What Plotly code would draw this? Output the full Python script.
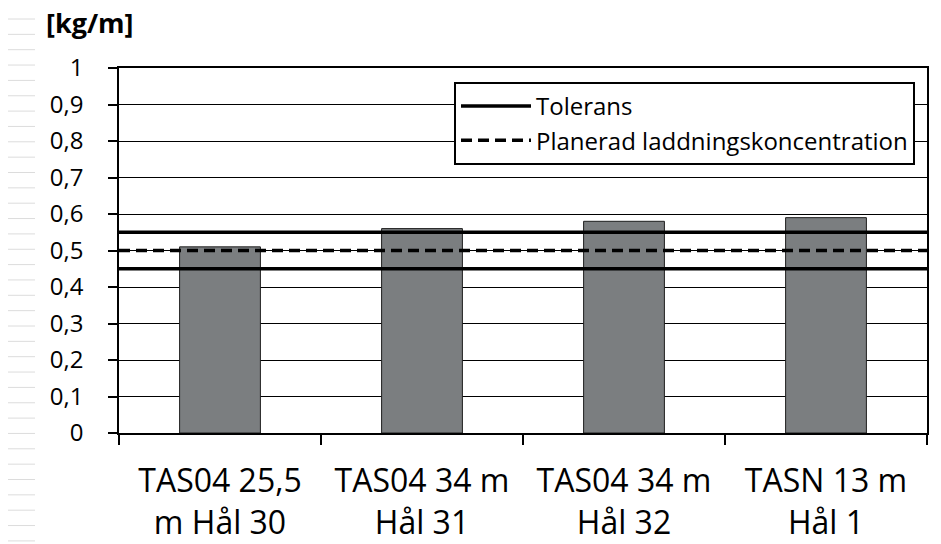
import plotly.graph_objects as go

# Measured charge concentration per hole
categories = [
    "TAS04 25,5<br>m Hål 30",
    "TAS04 34 m<br>Hål 31",
    "TAS04 34 m<br>Hål 32",
    "TASN 13 m<br>Hål 1",
]
values = [0.51, 0.56, 0.58, 0.59]

# Reference levels [kg/m]
tolerance_upper = 0.55
tolerance_lower = 0.45
planned = 0.50

y_ticks = [0, 0.1, 0.2, 0.3, 0.4, 0.5, 0.6, 0.7, 0.8, 0.9, 1]
y_tick_text = ["0", "0,1", "0,2", "0,3", "0,4", "0,5", "0,6", "0,7", "0,8", "0,9", "1"]

FONT = "Open Sans, DejaVu Sans, sans-serif"

fig = go.Figure()

fig.add_trace(go.Bar(
    x=categories,
    y=values,
    width=0.4,
    marker=dict(color="#7b7e80", line=dict(color="#1e1e1e", width=1)),
    showlegend=False,
    hoverinfo="y",
))

# Horizontal reference lines spanning the full plot width (on a hidden 0..1 axis)
fig.add_trace(go.Scatter(
    x=[0, 1, None, 0, 1],
    y=[tolerance_upper, tolerance_upper, None, tolerance_lower, tolerance_lower],
    xaxis="x2",
    mode="lines",
    line=dict(color="black", width=3.5),
    name="Tolerans",
))
fig.add_trace(go.Scatter(
    x=[0, 1],
    y=[planned, planned],
    xaxis="x2",
    mode="lines",
    line=dict(color="black", width=3.5, dash="11px,6px"),
    name="Planerad laddningskoncentration",
))

# Faint row rules along the left edge
W, H = 941, 544
L, R, T, B = 119, 14, 68, 111
pw, ph = W - L - R, H - T - B
shapes = []
y_px = 19.0
while y_px < H:
    yp = (H - B - y_px) / ph
    shapes.append(dict(
        type="line", xref="paper", yref="paper",
        x0=(8 - L) / pw, x1=(35 - L) / pw, y0=yp, y1=yp,
        line=dict(color="#dcdcdc", width=1), layer="below",
    ))
    y_px += 15.35

fig.update_layout(
    width=W, height=H,
    margin=dict(l=L, r=R, t=T, b=B, autoexpand=False),
    paper_bgcolor="white",
    plot_bgcolor="white",
    font=dict(family=FONT, color="black"),
    bargap=0.6,
    xaxis=dict(
        type="category",
        showline=True, linecolor="black", linewidth=1.5, mirror=True,
        ticks="outside", tickson="boundaries", ticklen=10, tickcolor="black", tickwidth=1.5,
        tickfont=dict(size=32, family=FONT),
        ticklabelstandoff=19,
        showgrid=False,
        fixedrange=True,
    ),
    xaxis2=dict(
        overlaying="x", range=[0, 1], visible=False, fixedrange=True,
    ),
    yaxis=dict(
        range=[0, 1],
        tickvals=y_ticks, ticktext=y_tick_text,
        showline=True, linecolor="black", linewidth=1.5, mirror=True,
        ticks="outside", ticklen=9, tickcolor="black", tickwidth=1.5,
        ticklabelstandoff=20,
        showgrid=True, gridcolor="black", gridwidth=1.2,
        tickfont=dict(size=24, family=FONT),
        zeroline=False,
        fixedrange=True,
    ),
    legend=dict(
        x=(454 - L) / pw, y=(H - B - 82) / ph,
        xanchor="left", yanchor="top",
        bgcolor="white", bordercolor="black", borderwidth=2,
        font=dict(size=24, family=FONT),
        itemwidth=70,
        tracegroupgap=0,
    ),
    shapes=shapes,
    annotations=[dict(
        text="<b>[kg/m]</b>", xref="paper", yref="paper",
        x=(44 - L) / pw, y=(H - B - 23) / ph,
        xanchor="left", yanchor="middle", showarrow=False,
        font=dict(size=27, family=FONT),
    )],
)

fig.write_html("out.html")
